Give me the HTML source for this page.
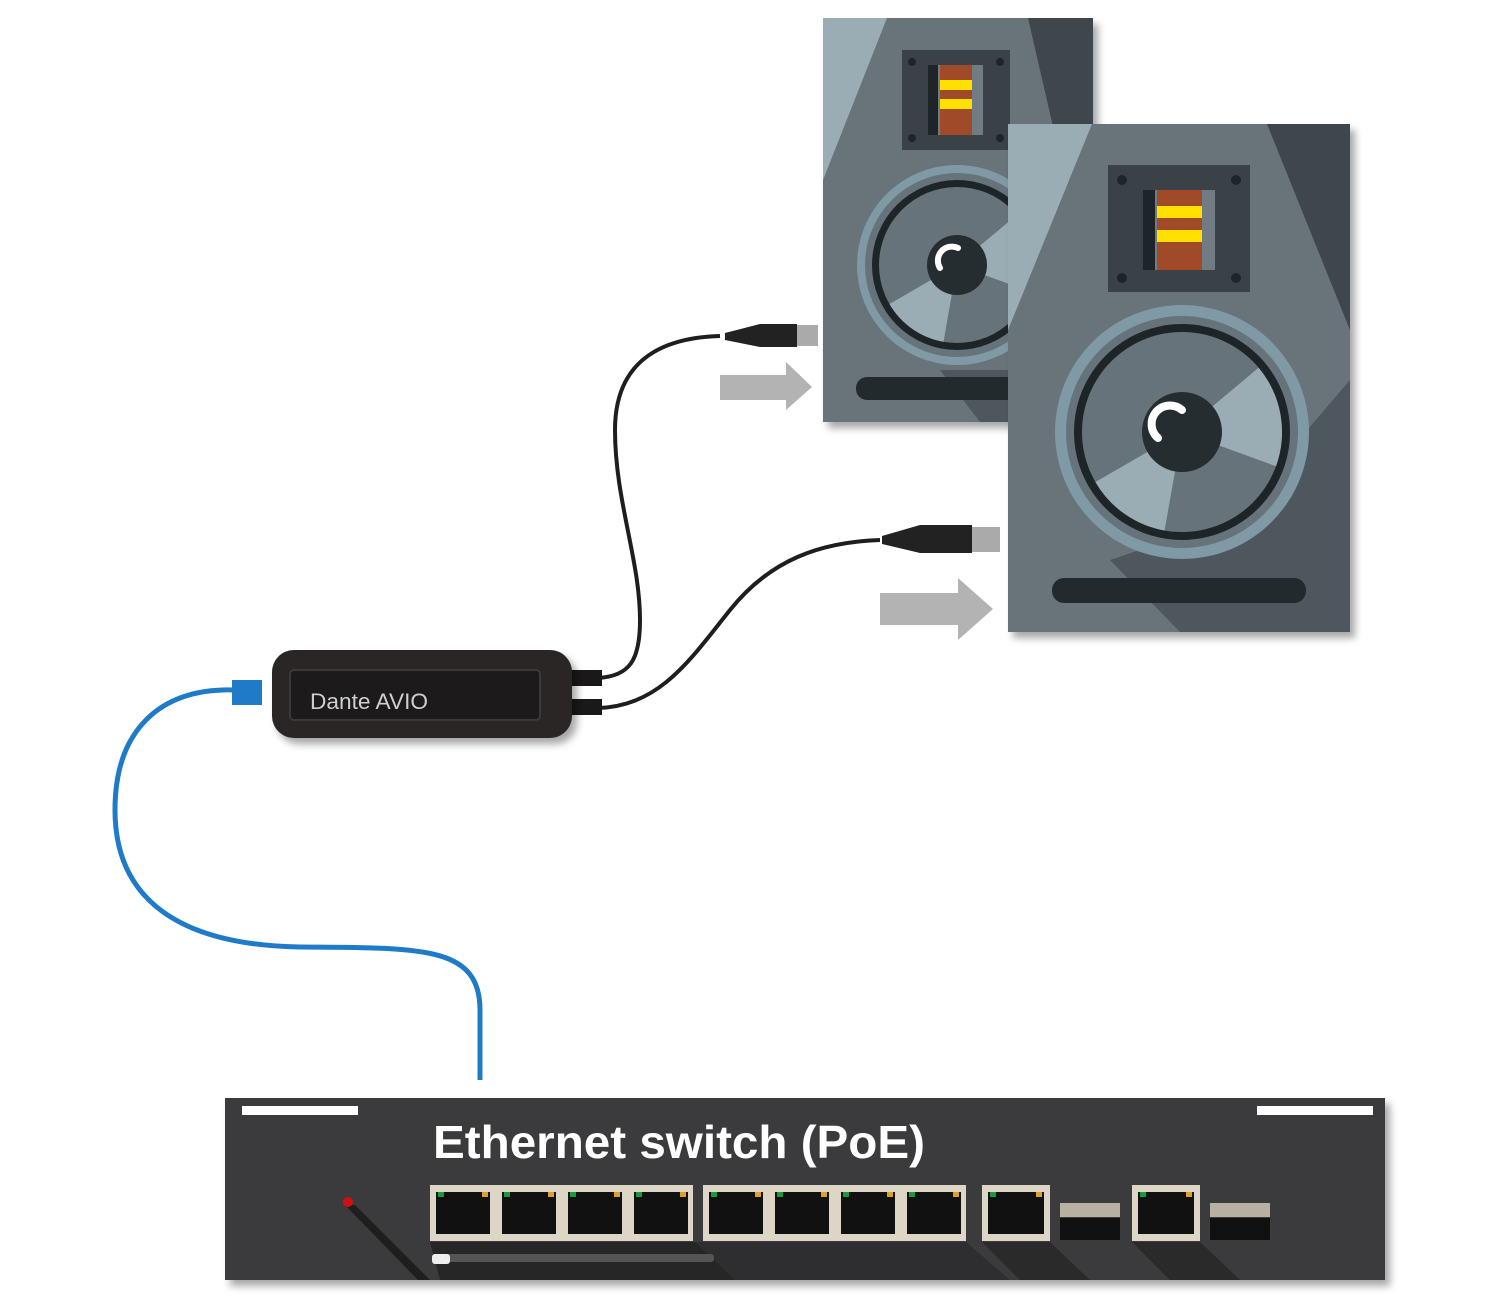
<!DOCTYPE html>
<html><head><meta charset="utf-8"><style>html,body{margin:0;padding:0;background:#fff;width:1500px;height:1297px;overflow:hidden}</style></head><body>
<svg width="1500" height="1297" viewBox="0 0 1500 1297" xmlns="http://www.w3.org/2000/svg">
<defs>
<filter id="sh" x="-10%" y="-10%" width="130%" height="130%"><feDropShadow dx="5" dy="6" stdDeviation="4" flood-color="#000" flood-opacity="0.35"/></filter>
<clipPath id="c1"><rect x="823" y="18" width="270" height="404"/></clipPath>
<clipPath id="c2"><rect x="1008" y="124" width="342" height="508"/></clipPath>
</defs>

<!-- Speaker 1 -->
<g filter="url(#sh)"><rect x="823" y="18" width="270" height="404" fill="#67737a"/></g>
<g clip-path="url(#c1)">
<polygon points="823,18 887,18 823,180" fill="#9aadb5"/>
<polygon points="1028,18 1093,18 1093,300" fill="#3f474d"/>
<polygon points="940,370 1093,370 1093,422 980,422" fill="#4d575d"/>
<rect x="902" y="50" width="108" height="100" fill="#3a4248"/>
<circle cx="912" cy="62" r="4" fill="#1e2529"/><circle cx="1000" cy="62" r="4" fill="#1e2529"/>
<circle cx="912" cy="138" r="4" fill="#1e2529"/><circle cx="1000" cy="138" r="4" fill="#1e2529"/>
<rect x="928" y="65" width="55" height="70" fill="#707c82"/>
<rect x="928" y="65" width="10" height="70" fill="#1e2529"/>
<rect x="940" y="65" width="32" height="70" fill="#a04a2a"/>
<rect x="940" y="80" width="32" height="10" fill="#ffe000"/>
<rect x="940" y="99" width="32" height="10" fill="#ffe000"/>
<circle cx="957" cy="265" r="100" fill="#7f9aa5"/>
<circle cx="957" cy="265" r="92" fill="#67737a"/>
<circle cx="957" cy="265" r="85" fill="#1e2529"/>
<circle cx="957" cy="265" r="78" fill="#67737a"/>
<path d="M957,265 L1016.8,214.9 A78,78 0 0 1 1030.3,291.7 Z" fill="#9aadb5"/>
<path d="M957,265 L943.5,341.8 A78,78 0 0 1 889.5,304 Z" fill="#9aadb5"/>
<circle cx="957" cy="265" r="30" fill="#252d31"/>
<path d="M940,268 a14,14 0 0 1 18,-20" stroke="#fff" stroke-width="6" fill="none" stroke-linecap="round"/>
<rect x="856" y="377" width="180" height="23" rx="11" fill="#222a2e"/>
</g>

<!-- Speaker 2 -->
<g filter="url(#sh)"><rect x="1008" y="124" width="342" height="508" fill="#67737a"/></g>
<g clip-path="url(#c2)">
<polygon points="1008,124 1092,124 1008,330" fill="#9aadb5"/>
<polygon points="1267,124 1350,124 1350,330" fill="#3f474d"/>
<polygon points="1230,520 1350,380 1350,632 1180,632 1110,560" fill="#4d575d"/>
<rect x="1108" y="165" width="142" height="127" fill="#3a4248"/>
<circle cx="1122" cy="180" r="5" fill="#1e2529"/><circle cx="1236" cy="180" r="5" fill="#1e2529"/>
<circle cx="1122" cy="278" r="5" fill="#1e2529"/><circle cx="1236" cy="278" r="5" fill="#1e2529"/>
<rect x="1143" y="190" width="72" height="80" fill="#707c82"/>
<rect x="1143" y="190" width="12" height="80" fill="#1e2529"/>
<rect x="1157" y="190" width="45" height="80" fill="#a04a2a"/>
<rect x="1157" y="206" width="45" height="12" fill="#ffe000"/>
<rect x="1157" y="230" width="45" height="12" fill="#ffe000"/>
<circle cx="1182" cy="432" r="127" fill="#7f9aa5"/>
<circle cx="1182" cy="432" r="116" fill="#67737a"/>
<circle cx="1182" cy="432" r="108" fill="#1e2529"/>
<circle cx="1182" cy="432" r="100" fill="#67737a"/>
<path d="M1182,432 L1258.6,367.7 A100,100 0 0 1 1276,466.2 Z" fill="#9aadb5"/>
<path d="M1182,432 L1164.6,530.5 A100,100 0 0 1 1095.4,482 Z" fill="#9aadb5"/>
<circle cx="1182" cy="432" r="40" fill="#252d31"/>
<path d="M1158,438 a18,18 0 0 1 24,-28" stroke="#fff" stroke-width="8" fill="none" stroke-linecap="round"/>
<rect x="1052" y="578" width="254" height="25" rx="12" fill="#222a2e"/>
</g>

<!-- Cables -->
<path d="M598,678 C630,676 640,660 640,620 C640,560 615,500 615,430 C615,370 650,338 720,336" stroke="#1e1e1e" stroke-width="4" fill="none"/>
<path d="M598,708 C660,706 690,660 730,610 C770,560 820,542 880,540" stroke="#1e1e1e" stroke-width="4" fill="none"/>
<polygon points="725,333 760,324 797,324 797,347 760,347 725,340" fill="#222"/>
<rect x="797" y="325" width="21" height="21" fill="#aaa"/>
<polygon points="882,536 920,525 972,525 972,553 920,553 882,544" fill="#222"/>
<rect x="972" y="527" width="28" height="25" fill="#aaa"/>
<polygon points="720,375 786,375 786,362 812,387 786,410 786,400 720,400" fill="#b3b3b3"/>
<polygon points="880,593 958,593 958,578 993,609 958,640 958,625 880,625" fill="#b3b3b3"/>

<!-- Blue cable -->
<path d="M234,690 C160,688 115,730 115,810 C115,900 180,945 300,947 C420,948 480,945 480,1010 L480,1080" stroke="#1f7bc7" stroke-width="5" fill="none"/>
<rect x="232" y="680" width="30" height="25" fill="#1f7bc7"/>

<!-- Dante box -->
<rect x="560" y="670" width="42" height="16" fill="#1a1818"/>
<rect x="560" y="699" width="42" height="16" fill="#1a1818"/>
<g filter="url(#sh)"><rect x="272" y="650" width="300" height="88" rx="22" fill="#2a2828"/></g>
<rect x="290" y="670" width="250" height="50" rx="4" fill="#1c1a1a" stroke="#3a3838" stroke-width="2"/>
<text x="310" y="709" font-family="Liberation Sans, sans-serif" font-size="22" fill="#cfcfcf" textLength="118" lengthAdjust="spacingAndGlyphs">Dante AVIO</text>

<!-- Switch -->
<g filter="url(#sh)"><rect x="225" y="1098" width="1160" height="182" fill="#3b3b3d"/></g>
<polygon points="345,1205 355,1205 430,1280 418,1280" fill="#1e1e1e"/>
<polygon points="430,1242 695,1242 735,1280 440,1280" fill="#262627"/>
<polygon points="695,1242 966,1242 1010,1280 735,1280" fill="#2e2e30"/>
<polygon points="982,1242 1050,1242 1090,1280 1020,1280" fill="#2a2a2b"/>
<polygon points="1132,1242 1200,1242 1240,1280 1170,1280" fill="#2a2a2b"/>
<rect x="432" y="1254" width="282" height="8" rx="3" fill="#555"/>
<rect x="432" y="1254" width="18" height="10" rx="3" fill="#eee"/>
<rect x="242" y="1106" width="116" height="9" fill="#fff"/>
<rect x="1257" y="1106" width="116" height="9" fill="#fff"/>
<circle cx="348" cy="1202" r="5" fill="#d01010"/>
<text x="433" y="1158" font-family="Liberation Sans, sans-serif" font-weight="bold" font-size="46" fill="#fff" textLength="492" lengthAdjust="spacingAndGlyphs">Ethernet switch (PoE)</text>
<g fill="#ddd6c6">
<rect x="430" y="1185" width="263" height="56"/>
<rect x="703" y="1185" width="263" height="56"/>
<rect x="982" y="1185" width="68" height="56"/>
<rect x="1132" y="1185" width="68" height="56"/>
</g>
<g fill="#111">
<rect x="436" y="1192" width="54" height="42"/><rect x="502" y="1192" width="54" height="42"/>
<rect x="568" y="1192" width="54" height="42"/><rect x="634" y="1192" width="54" height="42"/>
<rect x="709" y="1192" width="54" height="42"/><rect x="775" y="1192" width="54" height="42"/>
<rect x="841" y="1192" width="54" height="42"/><rect x="907" y="1192" width="54" height="42"/>
<rect x="988" y="1192" width="56" height="42"/><rect x="1138" y="1192" width="56" height="42"/>
<rect x="1060" y="1218" width="60" height="22"/><rect x="1210" y="1218" width="60" height="22"/>
</g>
<rect x="1060" y="1203" width="60" height="14" fill="#b8b0a0"/>
<rect x="1210" y="1203" width="60" height="14" fill="#b8b0a0"/>
<g fill="#1a9a3a">
<rect x="438" y="1192" width="6" height="5"/><rect x="504" y="1192" width="6" height="5"/><rect x="570" y="1192" width="6" height="5"/><rect x="636" y="1192" width="6" height="5"/>
<rect x="711" y="1192" width="6" height="5"/><rect x="777" y="1192" width="6" height="5"/><rect x="843" y="1192" width="6" height="5"/><rect x="909" y="1192" width="6" height="5"/>
<rect x="990" y="1192" width="6" height="5"/><rect x="1140" y="1192" width="6" height="5"/>
</g>
<g fill="#e0a020">
<rect x="482" y="1192" width="6" height="5"/><rect x="548" y="1192" width="6" height="5"/><rect x="614" y="1192" width="6" height="5"/><rect x="680" y="1192" width="6" height="5"/>
<rect x="755" y="1192" width="6" height="5"/><rect x="821" y="1192" width="6" height="5"/><rect x="887" y="1192" width="6" height="5"/><rect x="953" y="1192" width="6" height="5"/>
<rect x="1036" y="1192" width="6" height="5"/><rect x="1186" y="1192" width="6" height="5"/>
</g>
</svg>
</body></html>
